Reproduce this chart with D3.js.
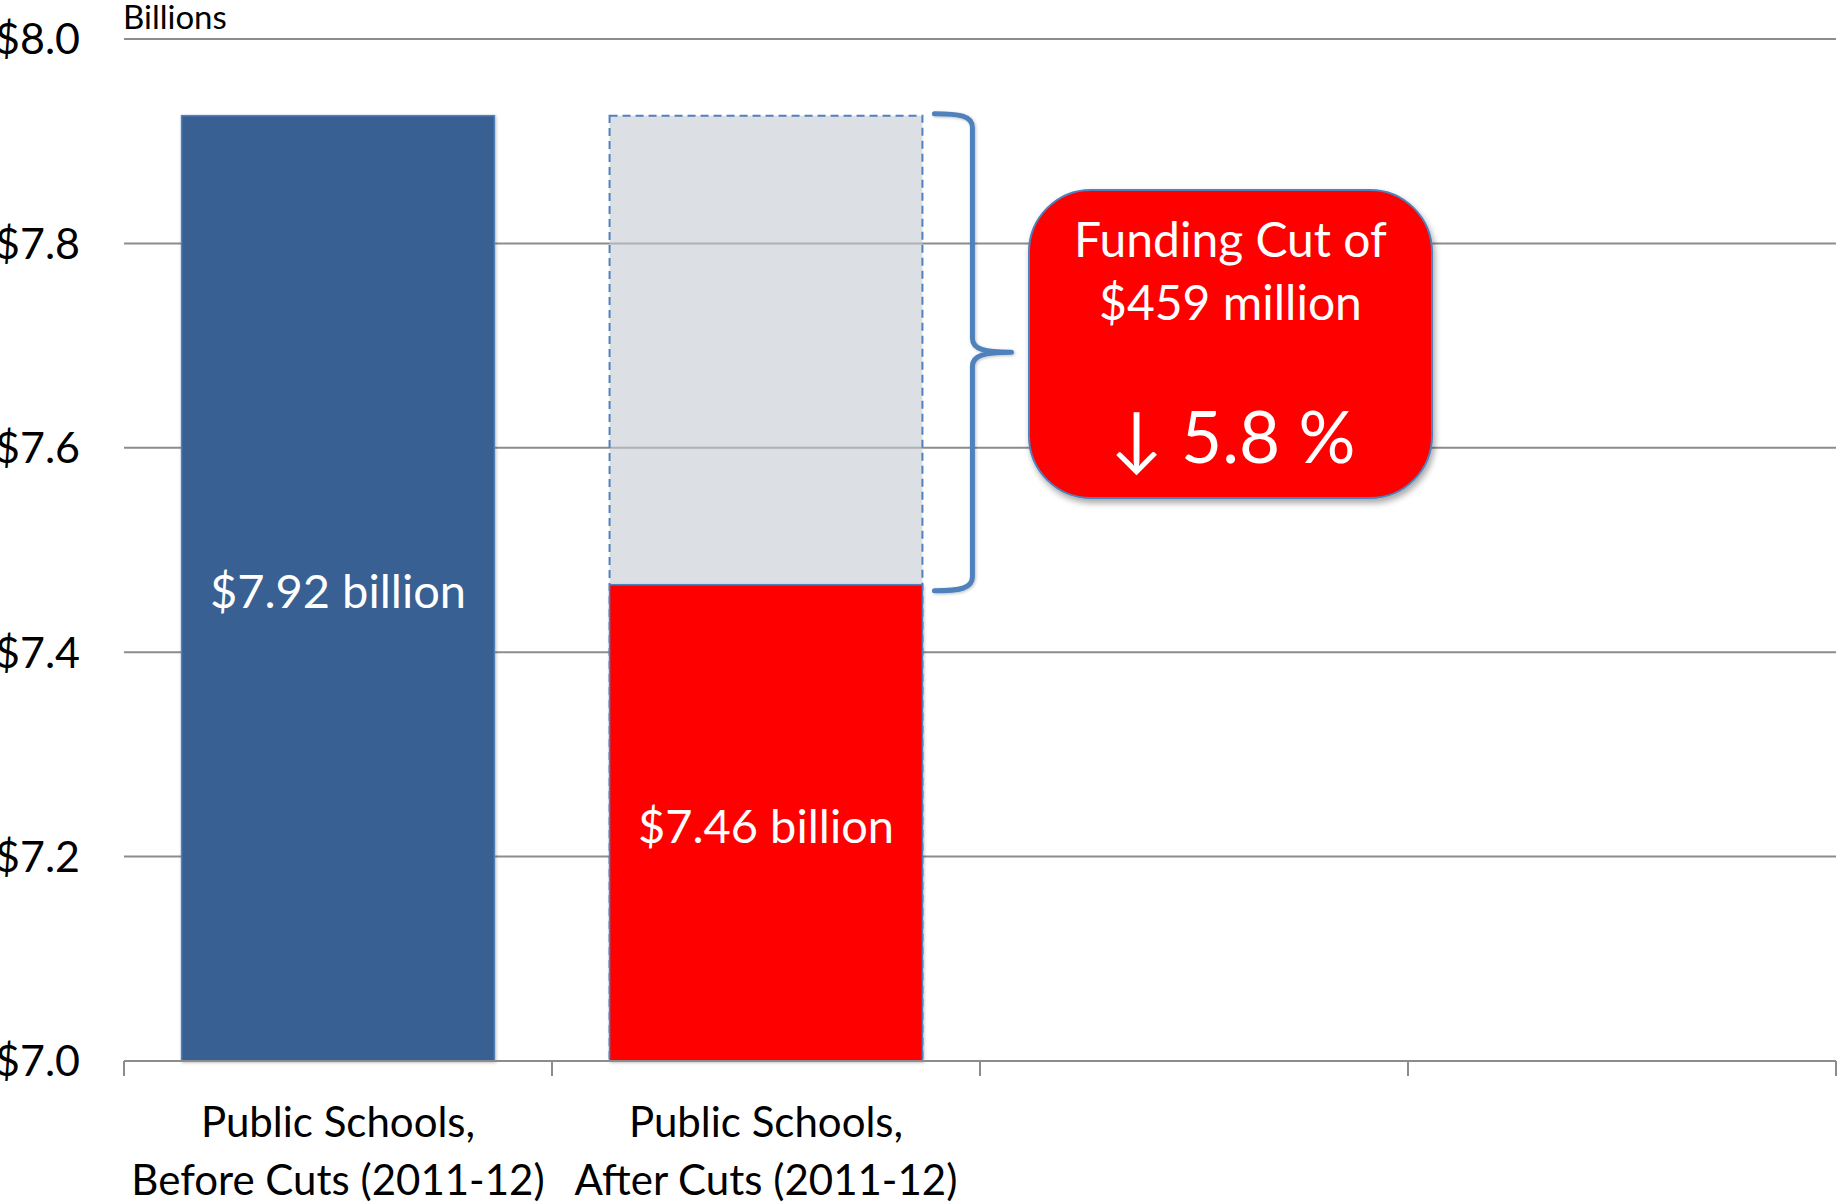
<!DOCTYPE html>
<html><head><meta charset="utf-8">
<script src="https://cdn.jsdelivr.net/npm/d3@7/dist/d3.min.js"></script>
<style>
html,body{margin:0;padding:0;background:#fff;}
svg{display:block;font-family:Lato,"Open Sans",sans-serif;}
</style></head>
<body>
<svg id="chart" width="1839" height="1203"></svg>
<script>
// ---- data ----
const categories = ["before", "after", "blank1", "blank2"];
const categoryLines = [["Public Schools,", "Before Cuts (2011-12)"], ["Public Schools,", "After Cuts (2011-12)"], [], []];
const barValues = [7.925, 7.466];         // billions
const ghostValues = [null, 7.925];        // prior level shown as ghost on "after" bar
const barLabels = ["$7.92 billion", "$7.46 billion"];
const barColors = ["#376092", "#ff0000"];
const yTicks = [7.0, 7.2, 7.4, 7.6, 7.8, 8.0];
const yTickLabels = ["$7.0", "$7.2", "$7.4", "$7.6", "$7.8", "$8.0"];
const unitLabel = "Billions";
const calloutLines = ["Funding Cut of", "$459 million"];
const calloutPct = "↓ 5.8 %";

(function () {
// ---- layout ----
const svg = d3.select("#chart");
const plot = {left: 124, right: 1836, top: 39, bottom: 1061};
const x = d3.scaleBand().domain(categories).range([plot.left, plot.right]).padding(0);
const y = d3.scaleLinear().domain([7.0, 8.0]).range([plot.bottom, plot.top]);
const barW = x.bandwidth() * 0.731;
const barX = c => x(c) + (x.bandwidth() - barW) / 2;

const defs = svg.append("defs");
const sh = defs.append("filter").attr("id", "shadow").attr("x", "-20%").attr("y", "-20%").attr("width", "140%").attr("height", "150%");
sh.append("feDropShadow").attr("dx", 2).attr("dy", 4).attr("stdDeviation", 3).attr("flood-color", "#000").attr("flood-opacity", 0.35);
const sh2 = defs.append("filter").attr("id", "barshadow").attr("x", "-10%").attr("y", "-10%").attr("width", "120%").attr("height", "120%");
sh2.append("feDropShadow").attr("dx", 1).attr("dy", 1).attr("stdDeviation", 1.5).attr("flood-color", "#000").attr("flood-opacity", 0.25);

// gridlines (excluding baseline)
svg.append("g").selectAll("line").data(yTicks.filter(t => t > 7.0)).join("line")
  .attr("x1", plot.left).attr("x2", plot.right)
  .attr("y1", d => y(d)).attr("y2", d => y(d))
  .attr("stroke", "#8c8c8c").attr("stroke-width", 2);

// y tick labels
svg.append("g").selectAll("text").data(yTicks).join("text")
  .attr("x", 80).attr("y", d => y(d)).attr("dy", "0.36em")
  .attr("text-anchor", "end").attr("font-size", 43).attr("fill", "#000")
  .text((d, i) => yTickLabels[i]);

svg.append("text").attr("x", 123).attr("y", 29).attr("font-size", 33).attr("fill", "#000").text(unitLabel);

// ghost bar
svg.append("g").selectAll("rect").data(categories.slice(0, 2).map((c, i) => ({c, v: ghostValues[i]})).filter(d => d.v != null)).join("rect")
  .attr("x", d => barX(d.c)).attr("width", barW)
  .attr("y", d => y(d.v)).attr("height", d => y(7.0) - y(d.v))
  .attr("fill", "#c4cad2").attr("fill-opacity", 0.6)
  .attr("stroke", "#4f81bd").attr("stroke-width", 2).attr("stroke-dasharray", "8,5");

// bars
svg.append("g").selectAll("rect").data(barValues.map((v, i) => ({c: categories[i], v, i}))).join("rect")
  .attr("x", d => barX(d.c)).attr("width", barW)
  .attr("y", d => y(d.v)).attr("height", d => y(7.0) - y(d.v))
  .attr("fill", d => barColors[d.i]).attr("stroke", "#4f81bd").attr("stroke-width", 1.5)
  .attr("filter", "url(#barshadow)");

// bar labels
svg.append("g").selectAll("text").data(barValues.map((v, i) => ({c: categories[i], v, i}))).join("text")
  .attr("x", d => x(d.c) + x.bandwidth() / 2)
  .attr("y", d => (y(d.v) + y(7.0)) / 2 + 20)
  .attr("text-anchor", "middle").attr("font-size", 47).attr("fill", "#fff")
  .text(d => barLabels[d.i]);

// x axis
const ax = svg.append("g");
ax.append("line").attr("x1", plot.left).attr("x2", plot.right).attr("y1", y(7.0)).attr("y2", y(7.0))
  .attr("stroke", "#8c8c8c").attr("stroke-width", 2);
const edges = categories.map(c => x(c)).concat([x(categories[categories.length - 1]) + x.bandwidth()]);
ax.selectAll("line.tick").data(edges).join("line").attr("class", "tick")
  .attr("x1", d => d).attr("x2", d => d).attr("y1", y(7.0)).attr("y2", y(7.0) + 15)
  .attr("stroke", "#8c8c8c").attr("stroke-width", 2);
categories.forEach((c, i) => {
  const t = ax.append("text").attr("text-anchor", "middle").attr("font-size", 42).attr("fill", "#000");
  categoryLines[i].forEach((ln, j) => {
    t.append("tspan").attr("x", x(c) + x.bandwidth() / 2).attr("y", 1137 + j * 58).text(ln);
  });
});

// brace
const bx = barX("after") + barW;
const bTop = y(ghostValues[1]) - 2, bBot = y(barValues[1]) + 6, bMid = (bTop + bBot) / 2;
const x0 = bx + 12, xv = bx + 50, xt = bx + 89;
const bracePath = `M${x0},${bTop} C${x0 + 25},${bTop} ${xv},${bTop + 2} ${xv},${bTop + 14}
 L${xv},${bMid - 14} C${xv},${bMid - 3} ${xv + 12},${bMid} ${xt},${bMid}
 M${xt},${bMid} C${xv + 12},${bMid} ${xv},${bMid + 3} ${xv},${bMid + 14}
 L${xv},${bBot - 14} C${xv},${bBot - 2} ${x0 + 25},${bBot} ${x0},${bBot}`;
svg.append("path").attr("d", bracePath).attr("fill", "none").attr("stroke", "#4f81bd")
  .attr("stroke-width", 5).attr("stroke-linecap", "round").attr("filter", "url(#barshadow)");

// callout box
const cL = x("blank1") + 49, cR = x("blank1") + 452, cT = 190, cB = 498;
svg.append("rect").attr("x", cL).attr("y", cT).attr("width", cR - cL).attr("height", cB - cT)
  .attr("rx", 62).attr("ry", 62).attr("fill", "#ff0000").attr("stroke", "#4f81bd").attr("stroke-width", 2)
  .attr("filter", "url(#shadow)");
const cx = (cL + cR) / 2;
svg.append("g").selectAll("text").data(calloutLines).join("text")
  .attr("x", cx).attr("y", (d, i) => 257 + i * 63)
  .attr("text-anchor", "middle").attr("font-size", 48).attr("fill", "#fff").text(d => d);
svg.append("text").attr("x", cx + 2).attr("y", 463).attr("text-anchor", "middle")
  .attr("font-size", 71).attr("fill", "#fff").text(calloutPct);
})();
</script>
</body></html>
